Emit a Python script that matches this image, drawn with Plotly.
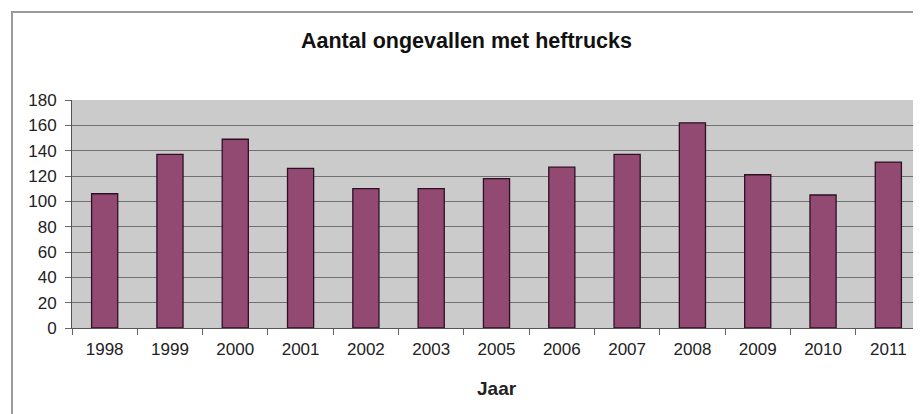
import plotly.graph_objects as go

years = ["1998", "1999", "2000", "2001", "2002", "2003", "2005",
         "2006", "2007", "2008", "2009", "2010", "2011"]
accidents = [106, 137, 149, 126, 110, 110, 118, 127, 137, 162, 121, 105, 131]
y_ticks = [0, 20, 40, 60, 80, 100, 120, 140, 160, 180]

# page body has an 8px default margin; work in screen pixels and shift
OFF = 8
W, H = 921, 414
PLOT_L, PLOT_R, PLOT_T, PLOT_B = 72, 921, 100, 328   # screen pixels
L = PLOT_L - OFF
T = PLOT_T - OFF
R = W - (PLOT_R - OFF)
B = H - (PLOT_B - OFF)
PW, PH = PLOT_R - PLOT_L, PLOT_B - PLOT_T

def px(x):
    return (x - PLOT_L) / PW

def py(y):
    return (PLOT_B - y) / PH

fig = go.Figure()
fig.add_trace(go.Bar(
    x=years, y=accidents,
    width=0.4,
    marker=dict(color="#924a72", line=dict(color="#2e1024", width=1.3)),
))

fig.update_layout(
    width=W, height=H,
    margin=dict(l=L, r=R, t=T, b=B, pad=0),
    paper_bgcolor="white",
    plot_bgcolor="#cbcbcb",
    showlegend=False,
    font=dict(family="Liberation Sans, Arial, sans-serif", color="#222222"),
    xaxis=dict(
        type="category",
        range=[-0.5, 12.5],
        tickson="boundaries",
        ticks="outside", ticklen=6, tickcolor="#666666", tickwidth=1,
        showline=True, linecolor="#555555", linewidth=1,
        showgrid=False,
        tickfont=dict(size=17, color="#222222"),
        ticklabelstandoff=6,
    ),
    yaxis=dict(
        range=[0, 180],
        tickvals=y_ticks,
        ticks="outside", ticklen=6, tickcolor="#666666", tickwidth=1,
        showline=True, linecolor="#555555", linewidth=1,
        showgrid=True, gridcolor="#707070", gridwidth=1,
        zeroline=False,
        tickfont=dict(size=17, color="#222222"),
        ticklabelstandoff=5,
    ),
    annotations=[
        dict(text="<b>Aantal ongevallen met heftrucks</b>", xref="paper", yref="paper",
             x=px(466), y=py(41), xanchor="center", yanchor="middle",
             showarrow=False, font=dict(size=21.5, color="#111111")),
        dict(text="<b>Jaar</b>", xref="paper", yref="paper",
             x=px(497), y=py(388), xanchor="center", yanchor="middle",
             showarrow=False, font=dict(size=19, color="#222222")),
    ],
    shapes=[
        dict(type="rect", xref="paper", yref="paper",
             x0=px(12), x1=px(940), y0=py(430), y1=py(12),
             line=dict(color="#9a9a9a", width=2), fillcolor="rgba(0,0,0,0)",
             layer="below"),
    ],
)

fig.write_html("out.html")
